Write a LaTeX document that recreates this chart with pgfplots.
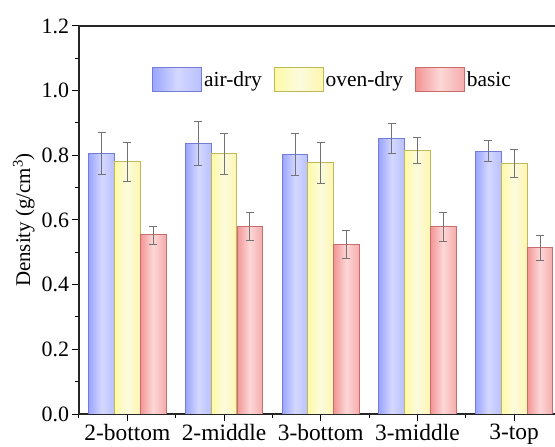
\documentclass[border=0pt]{standalone}
\usepackage{pgfplots}
\pgfplotsset{compat=1.18}
\usepackage{fontspec}
\setmainfont{Liberation Serif}
\usetikzlibrary{calc}
\definecolor{bL}{RGB}{155,165,255}
\definecolor{bM}{RGB}{212,216,255}
\definecolor{bR}{RGB}{185,192,255}
\definecolor{bD}{RGB}{115,125,215}
\definecolor{yL}{RGB}{255,250,165}
\definecolor{yM}{RGB}{251,251,222}
\definecolor{yR}{RGB}{255,246,175}
\definecolor{yD}{RGB}{190,184,90}
\definecolor{rL}{RGB}{242,148,148}
\definecolor{rM}{RGB}{253,215,215}
\definecolor{rR}{RGB}{245,172,172}
\definecolor{rD}{RGB}{200,108,108}
\pgfplotsset{
  airbar/.style={ybar, bar width=25.7bp, bar shift=0bp, draw=bD, line width=0.8bp,
    left color=bL, right color=bR, middle color=bM,
    error bars/y dir=both, error bars/y explicit},
  ovenbar/.style={ybar, bar width=25.7bp, bar shift=0bp, draw=yD, line width=0.8bp,
    left color=yL, right color=yR, middle color=yM,
    error bars/y dir=both, error bars/y explicit},
  basicbar/.style={ybar, bar width=25.7bp, bar shift=0bp, draw=rD, line width=0.8bp,
    left color=rL, right color=rR, middle color=rM,
    error bars/y dir=both, error bars/y explicit},
}
\begin{document}
\begin{tikzpicture}
\begin{axis}[
  scale only axis,
  width=483.5bp, height=388bp,
  xmin=-0.5, xmax=4.5,
  ymin=0, ymax=1.2,
  xtick={0,1,2,3,4},
  xticklabels={2-bottom,2-middle,3-bottom,3-middle,3-top},
  minor xtick={-0.5,0.5,1.5,2.5,3.5},
  ytick={0,0.2,...,1.2},
  minor ytick={0.1,0.3,...,1.1},
  yticklabel style={font=\fontsize{22}{26}\selectfont,
    /pgf/number format/.cd,fixed,fixed zerofill,precision=1,assume math mode=true},
  xticklabel style={font=\fontsize{23.5}{27}\selectfont},
  xtick pos=bottom, ytick pos=left,
  tick align=outside,
  major tick length=6.5bp, minor tick length=4bp,
  every tick/.style={black, line width=1bp},
  axis line style={line width=1.3bp, black!85},
  ylabel={Density (g/cm\textsuperscript{3})},
  ylabel style={font=\fontsize{21}{25}\selectfont},
  legend style={at={(rel axis cs:0.145,0.899)}, anchor=north west, draw=none, fill=none,
    font=\fontsize{21.5}{25}\selectfont, legend columns=3,
    /tikz/every even column/.append style={column sep=10bp}},
  legend image code/.code={\path[#1] (0bp,-12bp) rectangle (49bp,12bp);},
  error bars/error bar style={line width=0.6bp, black!55},
  error bars/error mark options={rotate=90, mark size=4bp, line width=0.6bp, black!55},
]
% air-dry (x offset = one bar width = 0.2658 category units)
\addplot[airbar] coordinates {(-0.2658,0.806) +- (0,0.065)};
\addlegendentry{air-dry}
\addplot[airbar, forget plot] coordinates {(0.7342,0.837) +- (0,0.067)};
\addplot[airbar, forget plot] coordinates {(1.7342,0.803) +- (0,0.066)};
\addplot[airbar, forget plot] coordinates {(2.7342,0.853) +- (0,0.047)};
\addplot[airbar, forget plot] coordinates {(3.7342,0.813) +- (0,0.033)};
% oven-dry
\addplot[ovenbar] coordinates {(0,0.780) +- (0,0.061)};
\addlegendentry{oven-dry}
\addplot[ovenbar, forget plot] coordinates {(1,0.805) +- (0,0.064)};
\addplot[ovenbar, forget plot] coordinates {(2,0.778) +- (0,0.063)};
\addplot[ovenbar, forget plot] coordinates {(3,0.816) +- (0,0.040)};
\addplot[ovenbar, forget plot] coordinates {(4,0.775) +- (0,0.043)};
% basic
\addplot[basicbar] coordinates {(0.2658,0.554) +- (0,0.028)};
\addlegendentry{basic}
\addplot[basicbar, forget plot] coordinates {(1.2658,0.580) +- (0,0.044)};
\addplot[basicbar, forget plot] coordinates {(2.2658,0.525) +- (0,0.043)};
\addplot[basicbar, forget plot] coordinates {(3.2658,0.580) +- (0,0.045)};
\addplot[basicbar, forget plot] coordinates {(4.2658,0.514) +- (0,0.040)};
\end{axis}
\pgfresetboundingbox
\path[use as bounding box] ($(current axis.south west)+(-79bp,-33bp)$) rectangle ($(current axis.south west)+(476bp,414bp)$);
\end{tikzpicture}
\end{document}
